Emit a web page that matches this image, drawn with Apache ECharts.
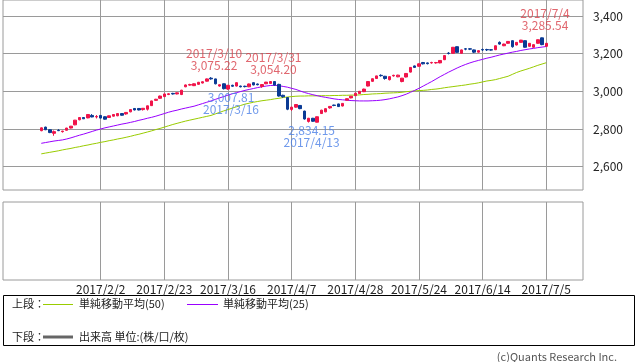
<!DOCTYPE html>
<html><head><meta charset="utf-8">
<script src="https://cdn.jsdelivr.net/npm/echarts@6/dist/echarts.min.js"></script>
<style>html,body{margin:0;padding:0;background:#fff}#c{width:638px;height:362px}</style>
</head><body><div id="c"></div>
<script>
const dates = ['2017/1/13','2017/1/16','2017/1/17','2017/1/18','2017/1/19','2017/1/20','2017/1/23','2017/1/24','2017/1/25','2017/1/26','2017/1/27','2017/1/30','2017/1/31','2017/2/1',
'2017/2/2','2017/2/3','2017/2/6','2017/2/7','2017/2/8','2017/2/9','2017/2/10','2017/2/13','2017/2/14','2017/2/15','2017/2/16','2017/2/17','2017/2/20','2017/2/21','2017/2/22','2017/2/23','2017/2/24','2017/2/27','2017/2/28',
'2017/3/1','2017/3/2','2017/3/3','2017/3/6','2017/3/7','2017/3/8','2017/3/9','2017/3/10','2017/3/13','2017/3/14','2017/3/15','2017/3/16','2017/3/17','2017/3/21','2017/3/22','2017/3/23','2017/3/24','2017/3/27','2017/3/28','2017/3/29','2017/3/30','2017/3/31',
'2017/4/3','2017/4/4','2017/4/5','2017/4/6','2017/4/7','2017/4/10','2017/4/11','2017/4/12','2017/4/13','2017/4/14','2017/4/17','2017/4/18','2017/4/19','2017/4/20','2017/4/21','2017/4/24','2017/4/25','2017/4/26','2017/4/27','2017/4/28',
'2017/5/1','2017/5/2','2017/5/8','2017/5/9','2017/5/10','2017/5/11','2017/5/12','2017/5/15','2017/5/16','2017/5/17','2017/5/18','2017/5/19','2017/5/22','2017/5/23','2017/5/24','2017/5/25','2017/5/26','2017/5/29','2017/5/30','2017/5/31',
'2017/6/1','2017/6/2','2017/6/5','2017/6/6','2017/6/7','2017/6/8','2017/6/9','2017/6/12','2017/6/13','2017/6/14','2017/6/15','2017/6/16','2017/6/19','2017/6/20','2017/6/21','2017/6/22','2017/6/23','2017/6/26','2017/6/27','2017/6/28','2017/6/29','2017/6/30',
'2017/7/3','2017/7/4','2017/7/5'];

const opens = [2791,2810,2796,2777,2793,2786,2793,2805,2822,2849,2861,2859,2872,2864,
2872,2865,2861,2868,2870,2882,2880,2891,2909,2909,2903,2905,2924,2952,2963,2972,2983,2989,2986,
2983,3024,3033,3030,3037,3044,3054,3070,3066,3028,3040,3012,3032,3028,3028,3027,3024,3046,3039,3026,3040,3042,
3052,3037,2979,2967,2904,2916,2925,2895,2840,2857,2836,2882,2891,2912,2927,2933,2922,2953,2965,2977,
2988,2998,3028,3053,3068,3085,3080,3062,3082,3077,3052,3076,3102,3135,3133,3153,3151,3151,3151,3151,
3168,3203,3202,3237,3202,3226,3226,3220,3208,3222,3222,3221,3221,3260,3242,3255,3269,3246,3260,3269,3239,3234,
3255,3284,3239];
const closes = [2806,2796,2781,2786,2791,2789,2805,2815,2847,2861,2854,2877,2864,2866,
2858,2852,2870,2877,2882,2873,2888,2903,2901,2901,2910,2923,2949,2958,2975,2986,2987,2986,2992,
3006,3034,3036,3040,3048,3051,3066,3066,3040,3035,3014,3032,3027,3046,3024,3025,3039,3034,3035,3036,3049,3052,
3033,2975,2971,2905,2916,2930,2908,2853,2857,2841,2865,2900,2908,2920,2925,2919,2936,2961,2974,2990,
3000,3012,3052,3067,3082,3083,3068,3078,3085,3086,3070,3095,3127,3127,3146,3146,3147,3153,3153,3164,
3190,3201,3234,3207,3220,3224,3224,3208,3216,3220,3220,3219,3242,3251,3251,3265,3237,3260,3272,3234,3255,3248,
3274,3248,3255];
const lows = [2788,2794,2778,2764,2789,2781,2791,2803,2820,2846,2853,2857,2862,2856,
2856,2850,2859,2866,2868,2871,2876,2889,2899,2899,2898,2898,2922,2950,2960,2970,2980,2983,2984,
2980,3022,3030,3028,3035,3042,3052,3062,3037,3025,3010,3007.81,3024,3026,3021,3021,3022,3032,3032,3019,3038,3040,
3030,2972,2966,2900,2896,2913,2905,2850,2834.15,2838,2835,2880,2889,2908,2921,2917,2920,2951,2963,2975,
2986,2996,3026,3050,3066,3078,3062,3058,3078,3075,3048,3074,3100,3124,3131,3143,3143,3147,3147,3149,
3166,3196,3200,3205,3200,3218,3219,3203,3206,3214,3214,3216,3219,3248,3240,3253,3232,3244,3258,3232,3237,3232,
3253,3245,3236];
const highs = [2808,2812,2798,2792,2799,2790,2806,2816,2848,2862,2862,2878,2879,2874,
2874,2867,2871,2878,2883,2884,2889,2904,2910,2910,2911,2924,2950,2960,2977,2988,2990,2992,2994,
3008,3036,3040,3042,3050,3053,3068,3075.22,3067,3037,3042,3034,3035,3048,3030,3030,3041,3047,3041,3038,3050,3054.2,
3053,3040,2982,2969,2918,2932,2927,2897,2859,2859,2866,2902,2910,2922,2929,2934,2937,2962,2975,2992,
3002,3014,3054,3068,3083,3090,3082,3080,3088,3088,3071,3097,3129,3137,3148,3156,3153,3157,3156,3166,
3191,3208,3235,3238,3222,3230,3229,3222,3218,3227,3226,3223,3243,3265,3253,3266,3270,3262,3273,3270,3256,3249,
3275,3285.54,3256];

const ma25 = [2724,2728,2732,2736,2739,2742,2747,2753,2760,2767,2773,2780,2787,2794,
2800,2806,2811,2816,2821,2826,2830,2835,2840,2846,2851,2857,2862,2868,2875,2882,2889,2895,2900,
2906,2911,2916,2921,2928,2935,2942,2949,2957,2965,2972,2980,2987,2993,2999,3005,3010,3015,3020,3024,3028,3031,
3032,3030,3026,3022,3016,3010,3002,2994,2988,2982,2977,2972,2968,2964,2960,2957,2955,2953,2951,2950,
2949,2949,2949,2950,2951,2953,2956,2960,2965,2970,2977,2985,2995,3005,3016,3028,3040,3052,3065,3078,
3090,3102,3113,3124,3134,3143,3151,3158,3164,3170,3176,3181,3187,3193,3198,3203,3208,3212,3217,3221,3225,3228,
3232,3235,3238];
const ma50 = [2668,2672,2676,2680,2684,2689,2693,2697,2702,2706,2711,2715,2720,2724,
2729,2733,2738,2742,2747,2751,2756,2761,2767,2772,2778,2784,2790,2797,2803,2810,2817,2824,2830,
2836,2842,2847,2852,2857,2862,2867,2872,2880,2888,2896,2903,2911,2918,2925,2932,2937,2942,2946,2950,2953,2956,
2960,2963,2967,2970,2972,2974,2975,2975,2976,2976,2976,2977,2977,2977,2978,2978,2979,2979,2980,2980,
2981,2983,2984,2986,2987,2988,2990,2991,2992,2993,2995,2998,3000,3002,3004,3005,3007,3010,3012,3015,
3019,3022,3025,3028,3031,3034,3038,3041,3045,3050,3055,3058,3062,3068,3074,3080,3090,3100,3108,3115,3122,3130,
3138,3145,3152];

const tickDates = ['2017/2/2','2017/2/23','2017/3/16','2017/4/7','2017/4/28','2017/5/24','2017/6/14','2017/7/5'];
const yTicks = [2600, 2800, 3000, 3200, 3400];

const annoHighDates = ['2017/3/10','2017/3/31','2017/7/4'];
const annoHighValues = [3075.22, 3054.20, 3285.54];
const annoLowDates = ['2017/3/16','2017/4/13'];
const annoLowValues = [3007.81, 2834.15];

const FONT = '"Noto Sans CJK JP", "Noto Sans", sans-serif';
const fmt2 = v => v.toLocaleString('en-US', {minimumFractionDigits: 2, maximumFractionDigits: 2});
const tickIdx = tickDates.map(d => dates.indexOf(d));
const candles = dates.map((d, i) => [i, opens[i], closes[i], lows[i], highs[i]]);
const xMin = -9.02, xMax = 127.65;
const GRID_C = '#9a9a9a';
const UP = '#f0144a', DOWN = '#0a3a94';

function xAxisFor(gi, showLabel) {
  return {
    type: 'value', gridIndex: gi, min: xMin, max: xMax,
    axisLine: {show: false},
    axisTick: {show: false, customValues: tickIdx},
    axisLabel: {show: showLabel, customValues: tickIdx, formatter: v => dates[Math.round(v)],
      margin: 3, fontSize: 12, color: '#222', fontFamily: FONT},
    splitLine: {show: true, lineStyle: {color: GRID_C, width: 1}}
  };
}

const chart = echarts.init(document.getElementById('c'), null, {renderer: 'canvas'});
chart.setOption({
  animation: false,
  backgroundColor: '#fff',
  textStyle: {fontFamily: FONT},
  grid: [
    {left: 3, top: 0, width: 580, height: 190, show: true, borderColor: GRID_C, borderWidth: 1},
    {left: 3, top: 202, width: 580, height: 78, show: true, borderColor: GRID_C, borderWidth: 1}
  ],
  xAxis: [xAxisFor(0, false), xAxisFor(1, true)],
  yAxis: [
    {type: 'value', gridIndex: 0, position: 'right', min: 2476, max: 3485,
     axisLine: {show: false}, axisTick: {show: false, customValues: yTicks},
     axisLabel: {customValues: yTicks, formatter: v => v.toLocaleString('en-US'), margin: 10,
       fontSize: 12, color: '#222', fontFamily: FONT},
     splitLine: {show: true, lineStyle: {color: GRID_C, width: 1}}},
    {type: 'value', gridIndex: 1, min: 0, max: 1, show: false, splitLine: {show: false}}
  ],
  series: [
    {type: 'line', name: '単純移動平均(50)', xAxisIndex: 0, yAxisIndex: 0,
     data: dates.map((d, i) => [i, ma50[i]]), showSymbol: false, symbol: 'none',
     lineStyle: {color: '#99cc00', width: 1}, z: 2},
    {type: 'line', name: '単純移動平均(25)', xAxisIndex: 0, yAxisIndex: 0,
     data: dates.map((d, i) => [i, ma25[i]]), showSymbol: false, symbol: 'none',
     lineStyle: {color: '#9900ff', width: 1}, z: 2},
    {type: 'candlestick', xAxisIndex: 0, yAxisIndex: 0, data: candles,
     encode: {x: 0, y: [1, 2, 3, 4]}, barWidth: 3,
     itemStyle: {color: UP, color0: DOWN, borderColor: UP, borderColor0: DOWN, borderWidth: 1}, z: 3},
    {type: 'scatter', xAxisIndex: 0, yAxisIndex: 0, symbolSize: 0, z: 5,
     data: annoHighDates.map((d, k) => [dates.indexOf(d), annoHighValues[k]]),
     itemStyle: {color: 'rgba(0,0,0,0)'},
     label: {show: true, position: 'top', distance: 6, offset: [3, 0], color: '#d8404a',
       fontSize: 12, lineHeight: 12, align: 'center', fontFamily: FONT,
       formatter: p => annoHighDates[p.dataIndex] + '\n' + fmt2(annoHighValues[p.dataIndex])}},
    {type: 'scatter', xAxisIndex: 0, yAxisIndex: 0, symbolSize: 0, z: 5,
     data: annoLowDates.map((d, k) => [dates.indexOf(d), annoLowValues[k]]),
     itemStyle: {color: 'rgba(0,0,0,0)'},
     label: {show: true, position: 'bottom', distance: 2, offset: [3, 0], color: '#4b7fe6',
       fontSize: 12, lineHeight: 12, align: 'center', fontFamily: FONT,
       formatter: p => fmt2(annoLowValues[p.dataIndex]) + '\n' + annoLowDates[p.dataIndex]}}
  ],
  graphic: [
    {type: 'rect', shape: {x: 3.5, y: 295.5, width: 631, height: 50}, style: {fill: 'none', stroke: '#000', lineWidth: 1}},
    {type: 'text', x: 12, y: 304, style: {text: '上段：', font: '11px ' + FONT, fill: '#222', verticalAlign: 'middle'}},
    {type: 'line', shape: {x1: 43, y1: 304.5, x2: 73, y2: 304.5}, style: {stroke: '#99cc00', lineWidth: 1}},
    {type: 'text', x: 79, y: 304, style: {text: '単純移動平均(50)', font: '11px ' + FONT, fill: '#222', verticalAlign: 'middle'}},
    {type: 'line', shape: {x1: 187, y1: 304.5, x2: 218, y2: 304.5}, style: {stroke: '#9900ff', lineWidth: 1}},
    {type: 'text', x: 223, y: 304, style: {text: '単純移動平均(25)', font: '11px ' + FONT, fill: '#222', verticalAlign: 'middle'}},
    {type: 'text', x: 12, y: 337, style: {text: '下段：', font: '11px ' + FONT, fill: '#222', verticalAlign: 'middle'}},
    {type: 'line', shape: {x1: 43, y1: 337, x2: 73, y2: 337}, style: {stroke: '#666', lineWidth: 3}},
    {type: 'text', x: 79, y: 337, style: {text: '出来高 単位:(株/口/枚)', font: '11px ' + FONT, fill: '#222', verticalAlign: 'middle'}},
    {type: 'text', x: 617, y: 357, style: {text: '(c)Quants Research Inc.', font: '11px ' + FONT, fill: '#555', align: 'right', verticalAlign: 'middle'}}
  ]
});
</script>
</body></html>
